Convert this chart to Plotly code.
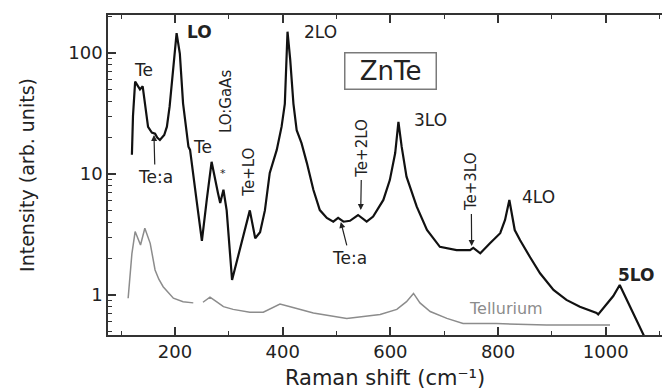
import plotly.graph_objects as go

# ZnTe Raman spectrum (upper, black)
znte_shift = [120, 122, 126, 130, 135, 140, 144, 150, 157, 163, 167, 172, 180, 185,
              190, 194, 198, 203, 209, 215, 225, 228, 240, 250, 259, 268, 280, 284,
              290, 296, 306, 324, 339, 349, 358, 367, 376, 389, 398, 404, 407.5, 409,
              414, 420, 426, 435, 445, 457, 469, 482, 494, 503, 513, 525, 540, 556,
              568, 587, 599, 609, 615, 621, 630, 649, 668, 692, 723, 748, 754, 767,
              785, 804, 813, 821, 831, 841, 859, 878, 903, 927, 952, 983, 986, 1002,
              1014, 1026, 1039, 1054, 1072]
znte_intensity = [14.4, 30, 58, 54, 50, 53, 40, 24.5, 22, 21.5, 20, 19.1, 21, 24.6,
                  36, 56, 90, 146, 99, 38.4, 16.8, 15.8, 6.1, 2.8, 6.1, 12.6, 6.9, 5.75,
                  7.4, 5.0, 1.33, 2.67, 5.0, 2.94, 3.3, 5.0, 10.2, 15.8, 24.6, 38, 99, 150,
                  88, 38, 23, 18, 12.3, 7.4, 5.03, 4.33, 4.03, 4.33, 4.03, 4.1, 4.58, 4.03,
                  4.44, 6.1, 8.9, 14.9, 27, 16.8, 9.5, 5.37, 3.44, 2.5, 2.35, 2.35, 2.45, 2.21,
                  2.67, 3.24, 4.17, 6.1, 3.44, 2.83, 2.07, 1.51, 1.1, 0.91, 0.80, 0.71, 0.69, 0.85,
                  0.98, 1.21, 0.91, 0.66, 0.45]

# Tellurium reference spectrum (lower, gray); None marks a gap in the record
te_shift = [113, 120, 126, 131, 136, 144, 154, 163, 170, 178, 197, 215, 234, None,
            252, 265, 277, 290, 308, 339, 364, 383, 395, 414, 432, 457, 519, 581,
            612, 630, 643, 655, 674, 705, 735, 797, 890, 1008]
te_intensity = [0.94, 2.2, 3.34, 2.9, 2.59, 3.56, 2.67, 1.61, 1.35, 1.17, 0.94, 0.88, 0.86, None,
                0.87, 0.96, 0.88, 0.80, 0.76, 0.72, 0.72, 0.79, 0.84, 0.80, 0.76, 0.71, 0.64, 0.69,
                0.76, 0.88, 1.03, 0.86, 0.73, 0.64, 0.58, 0.58, 0.565, 0.565]

x_ticks = [200, 400, 600, 800, 1000]
x_minor = [100, 300, 500, 700, 900, 1100]
y_ticks = [1, 10, 100]
y_tick_text = ["1", "10", "100"]
y_minor = [0.5, 0.6, 0.7, 0.8, 0.9, 2, 3, 4, 5, 6, 7, 8, 9,
           20, 30, 40, 50, 60, 70, 80, 90, 200]

FONT = "DejaVu Sans"
INK = "#222222"

fig = go.Figure()
fig.add_trace(go.Scatter(x=te_shift, y=te_intensity, mode="lines",
                         line=dict(color="#8c8c8c", width=1.5), connectgaps=False,
                         showlegend=False))
fig.add_trace(go.Scatter(x=znte_shift, y=znte_intensity, mode="lines",
                         line=dict(color="#111111", width=2.2), showlegend=False))

# peak labels: (text, shift, log10 intensity, angle, bold, size)
labels = [
    ("LO", 246, 2.174, 0, True, 17),
    ("Te", 141, 1.86, 0, False, 17),
    ("LO:GaAs", 295, 1.595, -90, False, 15),
    ("*", 289, 1.0, 0, False, 11),
    ("Te", 252, 1.223, 0, False, 17),
    ("Te+LO", 337, 1.017, -90, False, 15),
    ("2LO", 471, 2.174, 0, False, 17),
    ("3LO", 674, 1.446, 0, False, 17),
    ("4LO", 876, 0.81, 0, False, 17),
    ("5LO", 1058, 0.165, 0, True, 17),
]
annotations = []
for text, xs, ly, ang, bold, size in labels:
    annotations.append(dict(
        x=xs, y=ly, xref="x", yref="y", showarrow=False, textangle=ang,
        text=f"<b>{text}</b>" if bold else text,
        font=dict(family=FONT, size=size, color=INK)))

# labels carrying an arrow: (text, label shift, label log10 I, angle, tip shift, tip log10 I)
arrow_labels = [
    ("Te:a", 163, 0.975, 0, 161, 1.322),
    ("Te:a", 525, 0.306, 0, 508, 0.603),
    ("Te+2LO", 547, 1.215, -90, 545, 0.702),
    ("Te+3LO", 750, 0.934, -90, 751, 0.405),
]
for text, xa, ya, ang, xt, yt in arrow_labels:
    annotations.append(dict(
        x=xt, y=yt, ax=xa, ay=ya, xref="x", yref="y", axref="x", ayref="y",
        text=text, textangle=ang, showarrow=True,
        arrowhead=2, arrowsize=1, arrowwidth=1.2, arrowcolor=INK,
        standoff=0, startstandoff=1,
        font=dict(family=FONT, size=15 if ang else 17, color=INK)))

annotations.append(dict(x=815, y=-0.116, xref="x", yref="y", showarrow=False,
                        text="Tellurium", font=dict(family=FONT, size=16, color="#8c8c8c")))
annotations.append(dict(x=601, y=1.855, xref="x", yref="y", showarrow=False,
                        text="ZnTe", width=86, height=31, borderpad=2,
                        bordercolor="#7a7a7a", borderwidth=1.5,
                        font=dict(family=FONT, size=26, color=INK)))

fig.update_layout(
    width=662, height=392,
    margin=dict(l=108, r=0, t=15, b=57),
    paper_bgcolor="white", plot_bgcolor="white",
    font=dict(family=FONT, color=INK),
    annotations=annotations,
    xaxis=dict(
        range=[75.6, 1104.5], showgrid=False, zeroline=False,
        showline=True, linecolor="#333333", linewidth=1.5, mirror="ticks",
        ticks="inside", ticklen=8, tickwidth=1.5, tickcolor="#333333",
        tickvals=x_ticks, tickfont=dict(family=FONT, size=18, color=INK),
        minor=dict(ticks="inside", ticklen=4, tickwidth=1.2, tickcolor="#333333",
                   tickvals=x_minor, showgrid=False),
        title=dict(text="Raman shift (cm⁻¹)", standoff=9,
                   font=dict(family=FONT, size=21, color=INK)),
    ),
    yaxis=dict(
        type="log", range=[-0.331, 2.314], showgrid=False, zeroline=False,
        showline=True, linecolor="#333333", linewidth=1.5, mirror=False,
        ticks="inside", ticklen=8, tickwidth=1.5, tickcolor="#333333",
        tickvals=y_ticks, ticktext=y_tick_text,
        tickfont=dict(family=FONT, size=18, color=INK),
        minor=dict(ticks="inside", ticklen=4, tickwidth=1.2, tickcolor="#333333",
                   tickvals=y_minor, showgrid=False),
        title=dict(text="Intensity (arb. units)", standoff=29,
                   font=dict(family=FONT, size=19, color=INK)),
    ),
)

fig.write_html("out.html")
